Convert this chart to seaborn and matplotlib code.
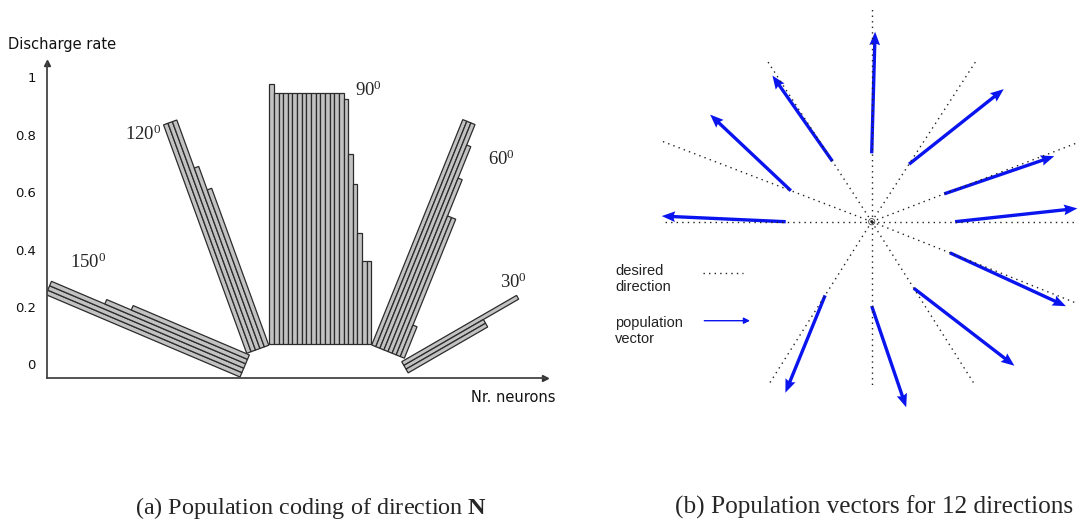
import numpy as np
import matplotlib
matplotlib.use("Agg")
import matplotlib.pyplot as plt
from matplotlib.transforms import Affine2D
import seaborn as sns

# ---------------- data ----------------
# (a) discharge rates of the neurons tuned to each direction (bar lengths)
rates_150 = [0.735, 0.735, 0.735, 0.533, 0.440]
rates_120 = [0.847, 0.847, 0.847, 0.669, 0.582]
rates_90 = [0.906] + [0.875] * 15 + [0.854, 0.662, 0.559, 0.389, 0.290, 0.290]
rates_60 = [0.847, 0.847, 0.847, 0.770, 0.652, 0.516, 0.516, 0.118]
rates_30 = [0.462, 0.320, 0.320]
group_labels = ["150", "120", "90", "60", "30"]
ytick_values = [0, 0.2, 0.4, 0.6, 0.8, 1]
ytick_labels = ["0", "0.2", "0.4", "0.6", "0.8", "1"]

# (b) desired directions and population vectors (deg, px units)
desired_angles = [90, 123, 159, 180, 57, 21, 0, -21.7, -57.7, -90, -122.3]
desired_len = [214, 191, 225, 210, 191, 220, 215, 221, 193, 166, 193]
pv_start = [68.4, 72.1, 86.6, 86.0, 68.6, 77.7, 83.4, 84.2, 78.7, 84.3, 87.2]
pv_angles = [88.4, 125.0, 136.7, 177.4, 38.4, 18.9, 6.2, -24.7, -37.6, -71.2, -112.2]
pv_len = [121.6, 104.6, 110.9, 124.1, 120.8, 116.3, 123.0, 127.7, 127.1, 107.0, 105.1]

# ---------------- style ----------------
sns.set_style("white")
plt.rcParams["font.family"] = ["DejaVu Sans"]
plt.rcParams["mathtext.fontset"] = "custom"
plt.rcParams["mathtext.rm"] = "Liberation Serif"
plt.rcParams["mathtext.bf"] = "Liberation Serif:bold"

W, H = 1078, 520
fig = plt.figure(figsize=(W / 100, H / 100), dpi=100)


def fx(x):
    return x / W


def fy(y):
    return 1 - y / H


# ---------------- panel (a) ----------------
ax = fig.add_axes([fx(47), fy(378), 498 / W, 315 / H])
ax.set_xlim(0, 498 / 287)
ax.set_ylim(-13.6 / 287, 301.4 / 287)
sns.despine(ax=ax)
for s in ["left", "bottom"]:
    ax.spines[s].set_color("#444444")
    ax.spines[s].set_linewidth(1.3)
ax.set_xticks([])
ax.set_yticks(ytick_values)
ax.set_yticklabels(ytick_labels)
ax.tick_params(axis="y", length=3, width=1, pad=5, labelsize=9.5, colors="#111111")
ax.plot(1, 0, ">", color="#333333", ms=4, transform=ax.transAxes, clip_on=False)
ax.plot(0, 1, "^", color="#333333", ms=4, transform=ax.transAxes, clip_on=False)

# layout of each rotated group: origin (data units), rotation, bar width
layout = {
    "150": dict(origin=(0.6725, -0.0439), rot=67, w=0.01672),
    "120": dict(origin=(0.6958, 0.0387), rot=20, w=0.01638),
    "90": dict(origin=(0.7746, 0.0700), rot=0, w=0.01616),
    "60": dict(origin=(1.1314, 0.0676), rot=-22, w=0.01533),
    "30": dict(origin=(1.2359, 0.0094), rot=-60, w=0.0150),
}
rates = {"150": rates_150, "120": rates_120, "90": rates_90, "60": rates_60, "30": rates_30}
for g in group_labels:
    L = layout[g]
    tr = Affine2D().rotate_deg(L["rot"]).translate(*L["origin"]) + ax.transData
    xs = np.arange(len(rates[g])) * L["w"]
    ax.bar(xs, rates[g], width=L["w"], align="edge", color="#c2c2c2",
           edgecolor="#2b2b2b", linewidth=0.9, transform=tr)

label_pos = {"150": (70, 268), "120": (125, 140), "90": (355, 96), "60": (488, 165), "30": (500, 288)}
for g in group_labels:
    x, y = label_pos[g]
    fig.text(fx(x), fy(y), r"$\mathrm{%s^0}$" % g, fontsize=13.5, ha="left", va="baseline")

fig.text(fx(8), fy(45), "Discharge rate", fontsize=10.5, ha="left", va="center", color="#111111")
fig.text(fx(471), fy(397), "Nr. neurons", fontsize=10.5, ha="left", va="center", color="#111111")

# ---------------- panel (b) ----------------
cx, cy = 871.7, 221.7
bx = fig.add_axes([fx(600), fy(430), 478 / W, 430 / H])
bx.set_xlim(600 - cx, 1078 - cx)
bx.set_ylim(cy - 430, cy - 0)
bx.set_aspect("equal")
bx.axis("off")

da = np.deg2rad(desired_angles)
for a, r in zip(da, desired_len):
    bx.plot([0, r * np.cos(a)], [0, r * np.sin(a)], color="#222222", lw=1.0,
            linestyle=(0, (1, 3)))
bx.scatter([0], [0], s=20, facecolors="none", edgecolors="#444444", linewidths=0.6)

pa = np.deg2rad(pv_angles)
x0 = np.array(pv_start) * np.cos(da)
y0 = np.array(pv_start) * np.sin(da)
u = np.array(pv_len) * np.cos(pa)
v = np.array(pv_len) * np.sin(pa)
bx.quiver(x0, y0, u, v, angles="xy", scale_units="xy", scale=1, color="#0a14ee",
          width=0.007, headwidth=3.2, headlength=4.0, headaxislength=3.6)

# legend
fig.text(fx(615), fy(264), "desired\ndirection", fontsize=10.5, family="Liberation Sans",
         ha="left", va="top", color="#222222", linespacing=1.15)
fig.text(fx(615), fy(316), "population\nvector", fontsize=10.5, family="Liberation Sans",
         ha="left", va="top", color="#222222", linespacing=1.15)
bx.plot([703.3 - cx, 743.3 - cx], [cy - 273.3, cy - 273.3], color="#222222", lw=1.0,
        linestyle=(0, (1, 3)))
bx.annotate("", xy=(750 - cx, cy - 320.7), xytext=(704.3 - cx, cy - 320.7),
            arrowprops=dict(arrowstyle="-|>", color="#0a14ee", lw=1.0, mutation_scale=9,
                            shrinkA=0, shrinkB=0))

# captions
fig.text(fx(135), fy(514), r"(a) Population coding of direction $\mathbf{N}$",
         family="Liberation Serif", fontsize=17.4, ha="left", va="baseline")
fig.text(fx(675), fy(514), "(b) Population vectors for 12 directions",
         family="Liberation Serif", fontsize=18.2, ha="left", va="baseline")

fig.savefig("out.png", dpi=100)
